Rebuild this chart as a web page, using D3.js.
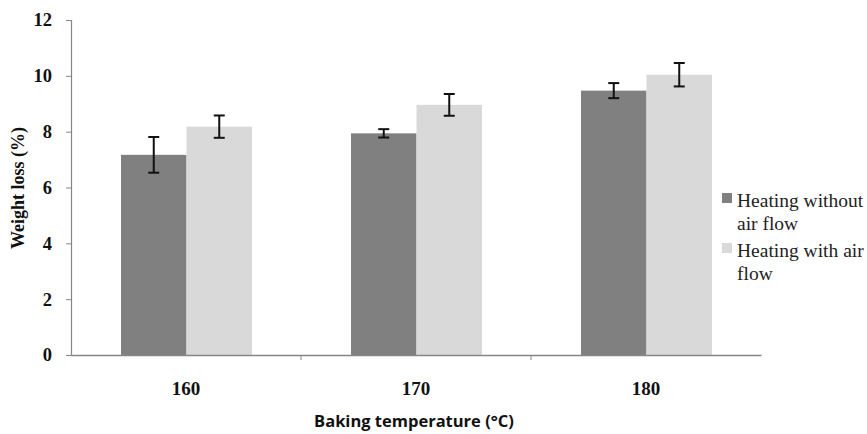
<!DOCTYPE html>
<html>
<head>
<meta charset="utf-8">
<script src="https://cdn.jsdelivr.net/npm/d3@7"></script>
<style>
body { margin: 0; background: #fff; }
</style>
</head>
<body>
<script>
// chart data
var temps = ["160", "170", "180"];
var seriesNames = ["Heating without air flow", "Heating with air flow"];
var withoutFlow = [7.17, 7.94, 9.47];
var withFlow = [8.18, 8.96, 10.04];
var withoutErr = [0.64, 0.15, 0.27];
var withErr = [0.40, 0.39, 0.42];
var yTicks = [0, 2, 4, 6, 8, 10, 12];
var colors = ["#808080", "#d9d9d9"];

var W = 867, H = 434;
// note: "top" is taken by window.top, so use plot* names
var plotLeft = 71, plotRight = 761, plotTop = 20, plotBottom = 355;
var serif = "'Liberation Serif', 'Times New Roman', serif";

var svg = d3.select("body").append("svg")
	.attr("width", W)
	.attr("height", H);

var x = d3.scaleBand().domain(temps).range([plotLeft, plotRight]).paddingInner(0).paddingOuter(0);
var inner = d3.scaleBand().domain([0, 1]).range([50, x.bandwidth() - 49]);
var y = d3.scaleLinear().domain([0, 12]).range([plotBottom, plotTop]);

var series = [
	{vals: withoutFlow, err: withoutErr},
	{vals: withFlow, err: withErr}
];

// bars
for(var s = 0; s < series.length; s++){
	for(var i = 0; i < temps.length; i++){
		var bx = x(temps[i]) + inner(s);
		svg.append("rect")
			.attr("x", bx)
			.attr("y", y(series[s].vals[i]))
			.attr("width", inner.bandwidth())
			.attr("height", y(0) - y(series[s].vals[i]))
			.attr("fill", colors[s]);
	}
}

// error bars
for(var s = 0; s < series.length; s++){
	for(var i = 0; i < temps.length; i++){
		var cx = x(temps[i]) + inner(s) + inner.bandwidth() / 2;
		var hi = y(series[s].vals[i] + series[s].err[i]);
		var lo = y(series[s].vals[i] - series[s].err[i]);
		svg.append("line").attr("x1", cx).attr("x2", cx).attr("y1", hi).attr("y2", lo)
			.attr("stroke", "#111").attr("stroke-width", 2);
		svg.append("line").attr("x1", cx - 5.5).attr("x2", cx + 5.5).attr("y1", hi).attr("y2", hi)
			.attr("stroke", "#111").attr("stroke-width", 2);
		svg.append("line").attr("x1", cx - 5.5).attr("x2", cx + 5.5).attr("y1", lo).attr("y2", lo)
			.attr("stroke", "#111").attr("stroke-width", 2);
	}
}

// y axis
var yAxis = svg.append("g")
	.attr("transform", "translate(" + plotLeft + ",0)")
	.call(d3.axisLeft(y).tickValues(yTicks).tickSize(5).tickPadding(14).tickFormat(d3.format("d")));
yAxis.select(".domain").attr("stroke", "#868686").attr("stroke-width", 1.2);
yAxis.selectAll(".tick line").attr("stroke", "#868686");
yAxis.selectAll("text")
	.attr("font-family", serif)
	.attr("font-size", 18.5).attr("font-weight", "bold").attr("fill", "#111");

// x axis
var xAxis = svg.append("g")
	.attr("transform", "translate(0," + plotBottom + ")")
	.call(d3.axisBottom(x).tickSize(0).tickPadding(27));
xAxis.select(".domain").attr("stroke", "#868686").attr("stroke-width", 1.5);
xAxis.selectAll("text")
	.attr("font-family", serif)
	.attr("font-size", 19).attr("font-weight", "bold").attr("fill", "#111");
// separators between categories
for(var i = 1; i < temps.length; i++){
	svg.append("line")
		.attr("x1", x(temps[i])).attr("x2", x(temps[i]))
		.attr("y1", plotBottom).attr("y2", plotBottom + 5)
		.attr("stroke", "#868686");
}

// axis titles
svg.append("text")
	.attr("transform", "translate(24,188) rotate(-90)")
	.attr("text-anchor", "middle")
	.attr("font-family", serif)
	.attr("font-size", 18).attr("font-weight", "bold").attr("fill", "#111")
	.text("Weight loss (%)");

svg.append("text")
	.attr("x", 414).attr("y", 427)
	.attr("text-anchor", "middle")
	.attr("font-family", "'Open Sans', 'Liberation Sans', sans-serif")
	.attr("font-size", 16.5).attr("font-weight", "bold").attr("fill", "#111")
	.text("Baking temperature (°C)");

// legend
var legendLines = [["Heating without", "air flow"], ["Heating with air", "flow"]];
for(var s = 0; s < seriesNames.length; s++){
	var ly = 207 + s * 50;
	svg.append("rect")
		.attr("x", 722).attr("y", ly - 14)
		.attr("width", 10).attr("height", 10)
		.attr("fill", colors[s]);
	var t = svg.append("text")
		.attr("x", 737).attr("y", ly)
		.attr("font-family", serif)
		.attr("font-size", 19.5).attr("fill", "#222");
	t.append("tspan").attr("x", 737).attr("dy", 0).text(legendLines[s][0]);
	t.append("tspan").attr("x", 737).attr("dy", 23).text(legendLines[s][1]);
}
</script>
</body>
</html>
